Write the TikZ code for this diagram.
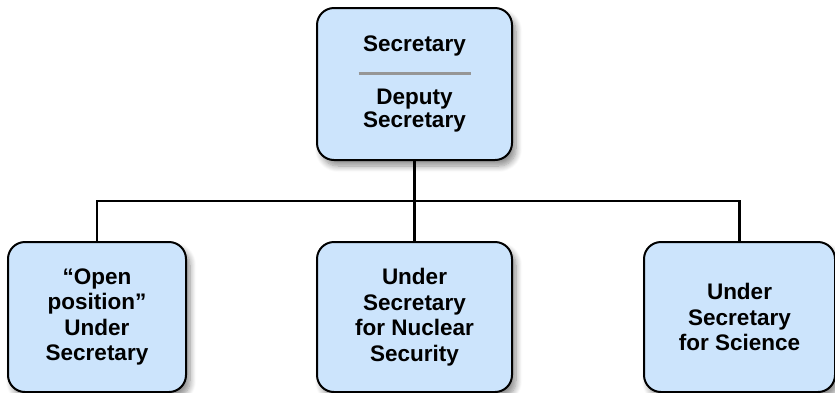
\documentclass[tikz,border=0pt]{standalone}
\usepackage{fontspec}
\setmainfont{Liberation Sans}
\usepackage{xcolor}
\usetikzlibrary{positioning}
\usetikzlibrary{calc}
\usetikzlibrary{shadows.blur}

\definecolor{boxblue}{RGB}{204,228,252}
\definecolor{bargray}{RGB}{150,150,150}

\begin{document}
\begin{tikzpicture}[-,semithick,node distance=80pt]
 				 \tikzstyle{office}=[draw, line width=2pt, rounded corners=17pt, fill=boxblue,
 				   align=center, font=\bfseries\fontsize{22.5}{25.5}\selectfont,
 				   minimum height=150pt, inner sep=0pt,
 				   blur shadow={shadow xshift=4pt, shadow yshift=-6pt, shadow blur steps=8, shadow blur radius=6pt, shadow opacity=45}]
 				 \tikzstyle{link}=[line width=2.2pt, black]
 				 \useasboundingbox (0pt,0pt) rectangle (835pt,-392pt);
 					 \node[office, minimum width=195pt, minimum height=152pt] (sec) at (414.5pt,-84pt)
 					   {Secretary\\[-2pt]\textcolor{bargray}{\rule{112pt}{3.5pt}}\\[4pt]Deputy\\[-3pt]Secretary};
  					 \node[office, minimum width=195pt] (mid) [below=of sec]
  					   {Under\\Secretary\\for Nuclear\\Security};
  					 \node[office, minimum width=178pt] (left) [left=129pt of mid]
  					   {``Open\\position''\\Under\\Secretary};
  					 \node[office, minimum width=191pt] (right) [right=130pt of mid]
  					   {Under\\Secretary\\for Science};
  					 \coordinate (bus) at ($(sec.south)!0.5!(mid.north)$);

 					  \draw[link] (sec.south) -- (mid.north);
 					  \draw[link] (left.north) |- (bus) -| (right.north);
				\end{tikzpicture}
\end{document}
